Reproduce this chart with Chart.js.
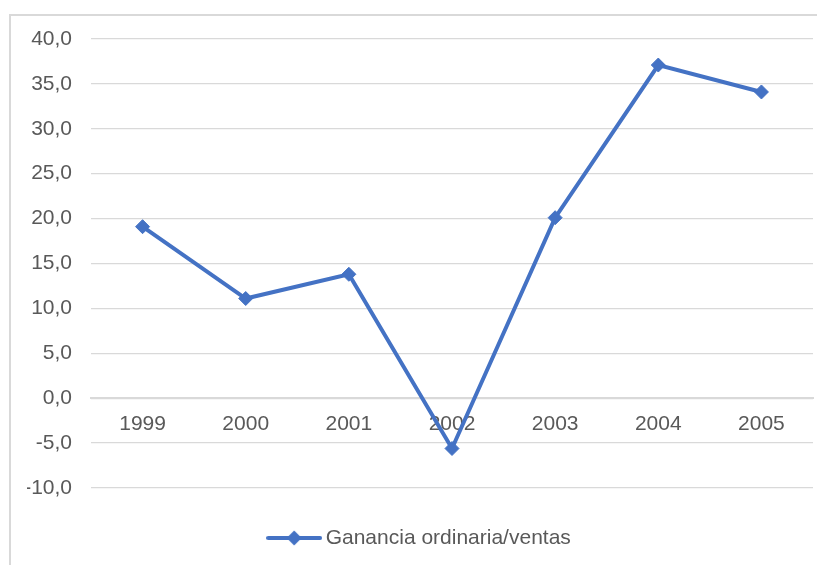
<!DOCTYPE html>
<html>
<head>
<meta charset="utf-8">
<title>Ganancia ordinaria/ventas</title>
<script src="https://cdn.jsdelivr.net/npm/chart.js@4/dist/chart.umd.min.js"></script>
<style>
  html, body { margin: 0; padding: 0; background: #fff; overflow: hidden; }
  #frame { position: absolute; left: 9px; top: 14px; width: 900px; height: 700px; border-left: 2px solid #d9d9d9; border-top: 2px solid #d9d9d9; }
  #wrap { position: absolute; left: 0; top: 0; width: 817px; height: 565px; }
</style>
</head>
<body>
<div id="frame"></div>
<div id="wrap"><canvas id="chart"></canvas></div>
<script>
const years = ['1999', '2000', '2001', '2002', '2003', '2004', '2005'];
const ratio = [19.1, 11.1, 13.8, -5.6, 20.1, 37.1, 34.1];
const seriesName = 'Ganancia ordinaria/ventas';
const yMin = -10;
const yMax = 40;
const yStep = 5;

const BLUE = '#4472C4';
const GRID = '#d9d9d9';
const TEXT = '#595959';
const FONT = "'Liberation Sans', Arial, sans-serif";

// legend swatch: line with a diamond in the middle, like Excel
function legendMarker() {
  const c = document.createElement('canvas');
  c.width = 56; c.height = 18;
  const g = c.getContext('2d');
  g.strokeStyle = BLUE;
  g.lineWidth = 4;
  g.lineCap = 'round';
  g.beginPath(); g.moveTo(2, 9); g.lineTo(54, 9); g.stroke();
  g.fillStyle = BLUE;
  g.beginPath(); g.moveTo(28, 1.5); g.lineTo(35.5, 9); g.lineTo(28, 16.5); g.lineTo(20.5, 9); g.closePath(); g.fill();
  return c;
}
const marker = legendMarker();

const comma = (v) => Number(v).toFixed(1).replace('.', ',');

new Chart(document.getElementById('chart'), {
  type: 'line',
  data: {
    labels: years,
    datasets: [{
      label: seriesName,
      data: ratio,
      borderColor: BLUE,
      backgroundColor: BLUE,
      borderWidth: 4,
      tension: 0,
      pointStyle: 'rectRot',
      pointRadius: 7,
      pointBackgroundColor: BLUE,
      pointBorderColor: BLUE,
      pointBorderWidth: 1
    }]
  },
  options: {
    responsive: true,
    maintainAspectRatio: false,
    animation: false,
    layout: { autoPadding: false, padding: { left: 27, right: 0, top: 39, bottom: 6.5 } },
    scales: {
      x: {
        type: 'category',
        position: { y: 0 },
        offset: true,
        grid: { display: false, drawTicks: false },
        border: { display: true, color: GRID, width: 2 },
        ticks: { color: TEXT, font: { family: FONT, size: 21 }, padding: 13, maxRotation: 0 },
        afterFit: (s) => { s.paddingLeft = 0; s.paddingRight = 0; }
      },
      xSpace: {
        type: 'category',
        position: 'bottom',
        grid: { display: false, drawTicks: false },
        border: { display: false },
        ticks: { display: false },
        afterFit: (s) => { s.height = 29.5; }
      },
      y: {
        min: yMin,
        max: yMax,
        grid: { color: GRID, lineWidth: 1.3, drawTicks: false },
        border: { display: false },
        ticks: { stepSize: yStep, color: TEXT, font: { family: FONT, size: 21 }, padding: 19, callback: (v) => comma(v) },
        afterFit: (s) => { s.width = 64; }
      },
      ySpace: {
        type: 'linear',
        position: 'right',
        grid: { display: false, drawTicks: false },
        border: { display: false },
        ticks: { display: false },
        afterFit: (s) => { s.width = 4; }
      }
    },
    plugins: {
      legend: {
        position: 'bottom',
        labels: {
          color: TEXT,
          font: { family: FONT, size: 21 },
          padding: 10,
          usePointStyle: true,
          pointStyleWidth: 42,
          generateLabels: (chart) => Chart.defaults.plugins.legend.labels.generateLabels(chart).map((it) => ({ ...it, pointStyle: marker }))
        }
      },
      tooltip: { enabled: false }
    }
  }
});
</script>
</body>
</html>
